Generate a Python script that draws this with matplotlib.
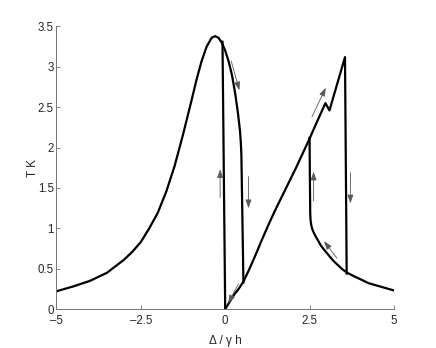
import matplotlib
matplotlib.use("Agg")
import matplotlib.pyplot as plt

plt.rcParams["font.family"] = ["Liberation Sans", "DejaVu Sans"]

# left resonance branch, ending in the drop near 0.5
left_x = [-5.0, -4.5, -4.0, -3.5, -3.0, -2.75, -2.5, -2.25, -2.0, -1.75, -1.5,
          -1.25, -1.0, -0.85, -0.7, -0.55, -0.4, -0.3, -0.2, -0.1, 0.0, 0.1,
          0.2, 0.3, 0.38, 0.44, 0.465, 0.48, 0.54]
left_y = [0.22, 0.28, 0.35, 0.45, 0.61, 0.71, 0.83, 1.00, 1.19, 1.45, 1.77,
          2.16, 2.58, 2.84, 3.07, 3.25, 3.36, 3.38, 3.36, 3.30, 3.20, 3.07,
          2.90, 2.66, 2.42, 2.20, 2.05, 1.90, 0.33]

# vertical jump near zero detuning
jump0_x = [-0.08, 0.0]
jump0_y = [3.31, 0.0]

# rising branch with a small kink, then the drop at ~3.6
rise_x = [0.0, 0.12, 0.25, 0.4, 0.54, 0.7, 0.9, 1.1, 1.3, 1.5, 1.7, 1.9,
          2.1, 2.3, 2.5, 2.7, 2.97, 3.09, 3.55, 3.60]
rise_y = [0.0, 0.08, 0.17, 0.25, 0.34, 0.48, 0.67, 0.87, 1.06, 1.24, 1.41,
          1.58, 1.75, 1.93, 2.11, 2.30, 2.55, 2.46, 3.12, 0.44]

# right branch: jump down at 2.5 and decaying tail
right_x = [2.50, 2.51, 2.52, 2.53, 2.55, 2.58, 2.62, 2.68, 2.75, 2.83, 2.92,
           3.0, 3.1, 3.2, 3.3, 3.45, 3.61, 3.8, 4.0, 4.25, 4.5, 4.75, 5.0]
right_y = [2.12, 1.60, 1.18, 1.10, 1.04, 0.99, 0.95, 0.90, 0.85, 0.79, 0.74,
           0.70, 0.65, 0.60, 0.56, 0.50, 0.45, 0.41, 0.37, 0.32, 0.29, 0.26,
           0.23]

# arrows: (start_x, start_y, end_x, end_y)
arrows = [
    (0.18, 3.07, 0.42, 2.71),
    (-0.15, 1.38, -0.15, 1.73),
    (0.69, 1.64, 0.69, 1.25),
    (0.39, 0.31, 0.09, 0.07),
    (2.57, 2.38, 2.98, 2.74),
    (2.62, 1.34, 2.62, 1.70),
    (3.71, 1.69, 3.71, 1.31),
    (3.31, 0.63, 2.93, 0.84),
]

x_ticks = [-5, -2.5, 0, 2.5, 5]
x_tick_labels = ["\u20135", "\u20132.5", "0", "2.5", "5"]
y_ticks = [0, 0.5, 1, 1.5, 2, 2.5, 3, 3.5]
y_tick_labels = ["0", "0.5", "1", "1.5", "2", "2.5", "3", "3.5"]

fig = plt.figure(figsize=(4.36, 3.48), dpi=100)
ax = fig.add_axes([0.1295, 0.112, 0.774, 0.812])

for xs, ys in [(left_x, left_y), (jump0_x, jump0_y), (rise_x, rise_y), (right_x, right_y)]:
    ax.plot(xs, ys, color="black", linewidth=1.6, solid_joinstyle="round")

for x0, y0, x1, y1 in arrows:
    ax.annotate("", xy=(x1, y1), xytext=(x0, y0),
                arrowprops=dict(arrowstyle="-|>,head_length=0.5,head_width=0.18",
                                color="0.35", lw=0.6, mutation_scale=10,
                                shrinkA=0, shrinkB=0))

ax.set_xlim(-5, 5)
ax.set_ylim(0, 3.5)
ax.set_xticks(x_ticks)
ax.set_xticklabels(x_tick_labels)
ax.set_yticks(y_ticks)
ax.set_yticklabels(y_tick_labels)

for side in ["top", "right"]:
    ax.spines[side].set_visible(False)
for side in ["left", "bottom"]:
    ax.spines[side].set_color("0.45")
    ax.spines[side].set_linewidth(0.7)
ax.tick_params(direction="in", length=3, width=0.6, color="0.45",
               labelsize=8.3, labelcolor="0.15")
ax.tick_params(axis="y", pad=2)
ax.tick_params(axis="x", pad=4)

ax.set_xlabel("\u0394 / \u03b3 h", fontsize=8.5, color="0.15", labelpad=6)
ax.set_ylabel("T K", fontsize=8.5, color="0.15", labelpad=-1)

fig.savefig("out.png", dpi=100)
